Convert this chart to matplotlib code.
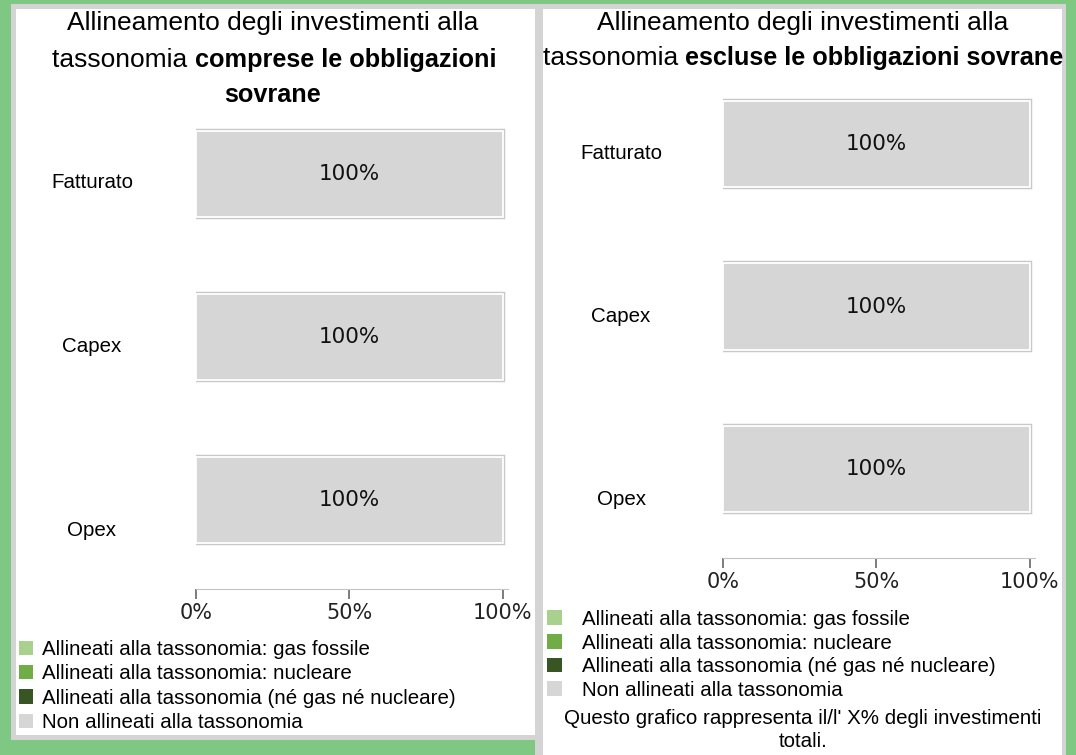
import matplotlib.pyplot as plt
from matplotlib.patches import Rectangle, Patch
from matplotlib.transforms import blended_transform_factory

# data
categories = ['Fatturato', 'Capex', 'Opex']
series_names = ['Allineati alla tassonomia: gas fossile',
                'Allineati alla tassonomia: nucleare',
                'Allineati alla tassonomia (né gas né nucleare)',
                'Non allineati alla tassonomia']
series_colors = ['#a9d18e', '#70ad47', '#375623', '#d6d6d6']
incl_values = [[0, 0, 0], [0, 0, 0], [0, 0, 0], [100, 100, 100]]
excl_values = [[0, 0, 0], [0, 0, 0], [0, 0, 0], [100, 100, 100]]
xticks = [0, 50, 100]
note = "Questo grafico rappresenta il/l' X% degli investimenti\ntotali."

W, H = 1076, 755
SANS = 'Liberation Sans'
NUM = 'DejaVu Sans'

fig = plt.figure(figsize=(W / 100, H / 100), dpi=100)
fig.patch.set_facecolor('#7fc884')


def px_rect(x0, y0, x1, y1, color):
    # rectangle given in pixels from the top-left corner
    fig.patches.append(Rectangle((x0 / W, 1 - y1 / H), (x1 - x0) / W, (y1 - y0) / H,
                                 transform=fig.transFigure, facecolor=color,
                                 edgecolor='none', zorder=-5))


# panels
px_rect(11, 4, 540, 740, '#d4d4d4')
px_rect(16, 9, 535, 735, 'white')
px_rect(535, 4, 1066, 760, '#d4d4d4')
px_rect(543, 9, 1062, 760, 'white')


def title_line(xc, yc, parts):
    r = fig.canvas.get_renderer()
    texts = []
    for s, w in parts:
        size = 18.2 if w == 'bold' else 19
        t = fig.text(0, 0, s, fontsize=size, fontweight=w, family=SANS, va='center')
        texts.append(t)
    widths = [t.get_window_extent(r).width for t in texts]
    x = xc - sum(widths) / 2
    for t, w in zip(texts, widths):
        t.set_position((x / W, 1 - yc / H))
        x += w


title_line(273, 23, [('Allineamento degli investimenti alla', 'normal')])
title_line(274, 60, [('tassonomia ', 'normal'), ('comprese le obbligazioni', 'bold')])
title_line(273, 95, [('sovrane', 'bold')])
title_line(803, 23, [('Allineamento degli investimenti alla', 'normal')])
title_line(803, 58, [('tassonomia ', 'normal'), ('escluse le obbligazioni sovrane', 'bold')])


def panel(rect, values, label_drop, label_dx):
    ax = fig.add_axes(rect)
    ax.set_facecolor('none')
    y = list(range(len(categories)))
    totals = [sum(v[i] for v in values) for i in y]
    ax.barh(y, totals, height=0.53, fill=False, edgecolor='#c8c8c8', linewidth=3.2, zorder=1)
    left = [0] * len(y)
    for vals, col in zip(values, series_colors):
        bars = ax.barh(y, vals, left=left, height=0.53, color=col, edgecolor='white',
                       linewidth=[1.3 if v > 0 else 0 for v in vals], zorder=2)
        ax.bar_label(bars, labels=[f'{v:.0f}%' if v > 0 else '' for v in vals],
                     label_type='center', fontsize=15.5, family=NUM, color='#111111')
        left = [a + b for a, b in zip(left, vals)]
    ax.set_ylim(len(y) - 1 + 0.546, -0.546)
    ax.set_xlim(0, 101.7)
    ax.set_yticks([])
    ax.set_xticks(xticks)
    ax.set_xticklabels([f'{t}%' for t in xticks], family=NUM, fontsize=15, color='#222222')
    ax.tick_params(axis='x', length=7, width=1.2, color='#666666', pad=3)
    for s in ['top', 'right', 'left']:
        ax.spines[s].set_visible(False)
    ax.spines['bottom'].set_color('#c4c4c4')
    tr = blended_transform_factory(ax.transAxes, ax.transData)
    for i, c in enumerate(categories):
        ax.annotate(c, xy=(0, i), xycoords=tr, xytext=(label_dx, -label_drop[i]),
                    textcoords='offset pixels', ha='center', va='center',
                    fontsize=14.8, family=SANS)
    return ax


panel([196 / W, 1 - 589 / H, 312 / W, 504 / H], incl_values, [9, 9, 30], -104)
panel([723 / W, 1 - 558 / H, 312 / W, 503 / H], excl_values, [10, 10, 30], -102)

handles = [Patch(facecolor=c, edgecolor='none') for c in series_colors]
fig.legend(handles, series_names, loc='upper left', bbox_to_anchor=(19 / W, 1 - 640 / H),
           frameon=False, prop={'family': SANS, 'size': 14.8}, handlelength=0.68,
           handleheight=0.68, handletextpad=0.42, labelspacing=0.26, borderpad=0,
           borderaxespad=0)
fig.legend(handles, series_names, loc='upper left', bbox_to_anchor=(547 / W, 1 - 610 / H),
           frameon=False, prop={'family': SANS, 'size': 14.8}, handlelength=0.72,
           handleheight=0.72, handletextpad=0.98, labelspacing=0.22, borderpad=0,
           borderaxespad=0)
fig.text(803 / W, 1 - 730 / H, note, ha='center', va='center', family=SANS,
         fontsize=14.8, linespacing=1.3)

fig.savefig('out.png', dpi=100, facecolor=fig.get_facecolor())
